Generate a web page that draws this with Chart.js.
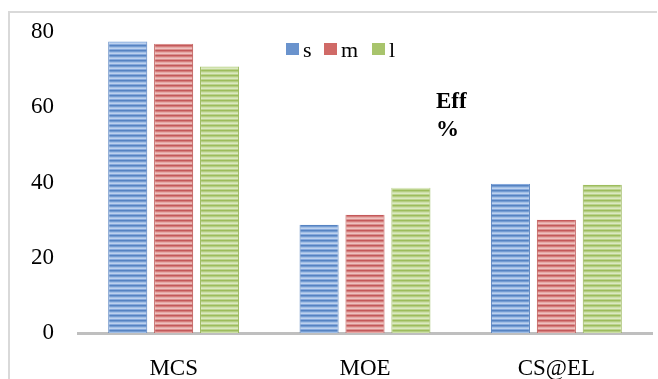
<!DOCTYPE html>
<html>
<head>
<meta charset="utf-8">
<script src="https://cdn.jsdelivr.net/npm/chart.js@4/dist/chart.umd.min.js"></script>
<style>
html,body{margin:0;padding:0;background:#fff;}
#wrap{width:658px;height:379px;position:relative;}
</style>
</head>
<body>
<div id="wrap"><canvas id="c" width="658" height="379"></canvas></div>
<script>
const categories = ["MCS", "MOE", "CS@EL"];
const seriesNames = ["s", "m", "l"];
const sValues = [77.5, 28.8, 39.7];
const mValues = [76.9, 31.4, 30.1];
const lValues = [70.8, 38.6, 39.4];
const yTicks = [0, 20, 40, 60, 80];
const sideLabel = ["Eff", "%"];

function stripes(cols) {
  const c = document.createElement('canvas');
  c.width = 4; c.height = cols.length;
  const x = c.getContext('2d');
  cols.forEach((col, i) => { x.fillStyle = col; x.fillRect(0, i, 4, 1); });
  return x.createPattern(c, 'repeat');
}
const palettes = [
  {fill: stripes(['#5683c2','#749cd2','#a2bfe6','#bcd1ee','#86a9dc']), edge:'#4f7bbb', sw:'#6a93cd'},
  {fill: stripes(['#c4585a','#d47d7b','#e6a9a7','#eec1bf','#da908e']), edge:'#b94c49', sw:'#d06a67'},
  {fill: stripes(['#9dbd5c','#b4cd82','#cde0a8','#dbe8c1','#bcd38e']), edge:'#92b24f', sw:'#a8c46c'}
];
const valueSets = [sValues, mValues, lValues];
const serif = '"Liberation Serif", "Times New Roman", serif';

const framePlugin = {
  id: 'frame',
  beforeDraw(chart) {
    const c = chart.ctx;
    c.save();
    c.strokeStyle = '#d9d9d9';
    c.lineWidth = 2;
    c.beginPath();
    c.moveTo(9, 379); c.lineTo(9, 12); c.lineTo(657, 12);
    c.stroke();
    c.restore();
  },
  afterDraw(chart) {
    const c = chart.ctx;
    c.save();
    const lx = [286, 324, 372];
    chart.data.datasets.forEach((ds, i) => {
      c.fillStyle = palettes[i].sw;
      c.fillRect(lx[i], 43, 13, 12);
      c.fillStyle = '#000';
      c.font = '22px ' + serif;
      c.textBaseline = 'alphabetic';
      c.textAlign = 'left';
      c.fillText(ds.label, lx[i] + 17, 57);
    });
    c.font = 'bold 23px ' + serif;
    c.fillText(sideLabel[0], 436, 108);
    c.fillText(sideLabel[1], 436, 136);
    c.restore();
  }
};

new Chart(document.getElementById('c'), {
  type: 'bar',
  data: {
    labels: categories,
    datasets: seriesNames.map((n, i) => ({
      label: n,
      data: valueSets[i],
      backgroundColor: palettes[i].fill,
      borderColor: palettes[i].edge,
      borderWidth: {left: 1, right: 1, top: 0, bottom: 0},
      borderSkipped: false,
      categoryPercentage: 0.72,
      barPercentage: 0.85
    }))
  },
  options: {
    responsive: false,
    animation: false,
    devicePixelRatio: 1,
    layout: {padding: {top: 32, right: 6, left: 0, bottom: 0}},
    plugins: {legend: {display: false}, tooltip: {enabled: false}, title: {display: false}},
    scales: {
      x: {
        grid: {display: false, drawTicks: false},
        border: {display: true, color: '#bfbfbf', width: 3},
        ticks: {color: '#000', padding: 22, font: {family: serif, size: 23}},
        afterFit(s) { s.height = 46; }
      },
      y: {
        min: 0, max: 80,
        afterBuildTicks(s) { s.ticks = yTicks.map(v => ({value: v})); },
        grid: {display: false, drawTicks: false},
        border: {display: false},
        ticks: {color: '#000', padding: 24, font: {family: serif, size: 23}},
        afterFit(s) { s.width = 78; s.paddingTop = 10; s.paddingBottom = 10; }
      }
    }
  },
  plugins: [framePlugin]
});
</script>
</body>
</html>
